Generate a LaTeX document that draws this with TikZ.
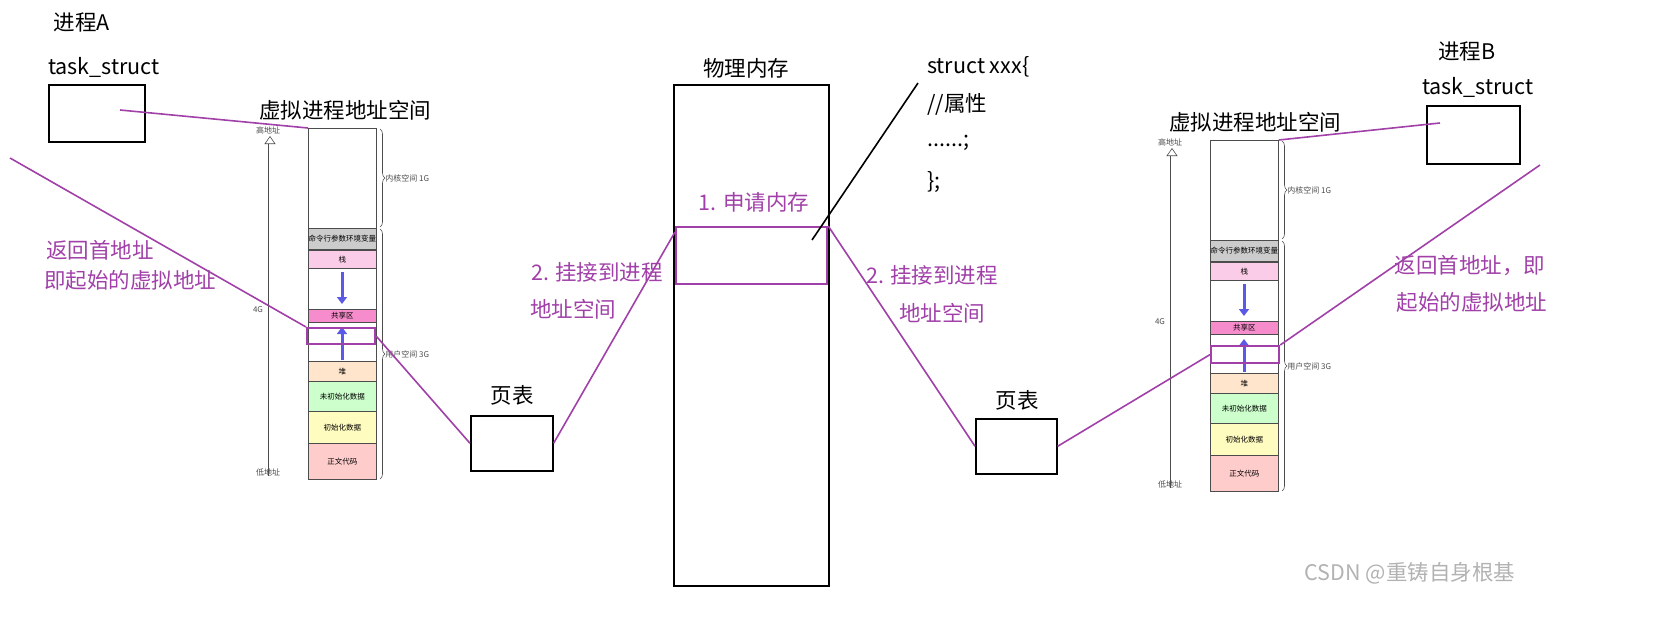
\documentclass[tikz,border=0pt]{standalone}
\usepackage{fontspec}
\setmainfont{Noto Sans CJK SC}
\usetikzlibrary{decorations.pathreplacing,arrows.meta}
\definecolor{pur}{HTML}{A040A8}
\definecolor{blu}{HTML}{5A5AE6}
\tikzset{
 seg/.style={draw=black!70,line width=0.8pt,minimum width=68pt,anchor=north west,inner sep=0pt,font=\fontsize{7.5}{7.5}\selectfont},
 box/.style={draw,line width=1.6pt,anchor=north west,inner sep=0pt},
 pl/.style={pur,line width=1.6pt},
 pbox/.style={draw=pur,line width=2.2pt,anchor=north west,inner sep=0pt},
 tx/.style={font=\fontsize{21.5}{24}\selectfont,inner sep=0pt},
 ptx/.style={tx,text=pur},
 small/.style={font=\fontsize{8}{8}\selectfont,inner sep=0pt,text=black!70},
 barr/.style={blu,line width=3pt,-{Triangle[length=7pt,width=10pt]}},
}
\newcommand\vaspace[4]{% prefix, x, ytop, ybottom
 \begin{scope}[shift={(#2,#3)}]
 \node[seg,minimum height=100pt] (#1k) at (0,0) {};
 \node[seg,minimum height=21pt,fill=black!20] (#1c) at (0,100) {命令行参数环境变量};
 \node[seg,minimum height=18pt,fill=magenta!20] (#1s) at (0,122) {栈};
 \node[seg,minimum height=41pt] (#1g) at (0,140) {};
 \node[seg,minimum height=13pt,fill=magenta!45] (#1sh) at (0,181) {共享区};
 \node[seg,minimum height=39pt] (#1g2) at (0,194) {};
 \node[seg,minimum height=20pt,fill=orange!20] (#1h) at (0,233) {堆};
 \node[seg,minimum height=30pt,fill=green!20] (#1u) at (0,253) {未初始化数据};
 \node[seg,minimum height=32pt,fill=yellow!25] (#1i) at (0,283) {初始化数据};
 \node[seg,minimum height=36pt,fill=red!20] (#1t) at (0,315) {正文代码};
 \draw[barr] (34,144) -- (34,176);
 \draw[barr] (34,232) -- (34,199);
 \draw[black!70,double=white,double distance=3pt,line width=0.6pt,-{Triangle[open,length=8pt,width=11pt]}] (-38,348) -- (-38,8);
 \node[small] at (-40,2) {高地址};
 \node[small] at (-50,182) {4G};
 \node[small] at (-40,344) {低地址};
 \draw[black!70,line width=0.6pt,decorate,decoration={brace,amplitude=5pt}] (72,1) -- (72,99) node[midway,right=5pt,small] {内核空间 1G};
 \draw[black!70,line width=0.6pt,decorate,decoration={brace,amplitude=5pt}] (72,101) -- (72,351) node[midway,right=5pt,small] {用户空间 3G};
 \end{scope}}
\begin{document}
\begin{tikzpicture}[x=1pt,y=-1pt]
\useasboundingbox (0,0) rectangle (1663,637);
\vaspace{L}{308}{128}{480}
\vaspace{R}{1210}{140}{488}
\node[pbox,minimum width=68pt,minimum height=16pt] (Lp) at (306,327) {};
\node[pbox,minimum width=68pt,minimum height=17pt] (Rp) at (1210,345) {};
% boxes
\node[box,minimum width=96pt,minimum height=57pt] (ta) at (48,84) {};
\node[box,minimum width=93pt,minimum height=58pt] (tb) at (1426,105) {};
\node[box,minimum width=155pt,minimum height=501pt] (pm) at (673,84) {};
\node[pbox,minimum width=151pt,minimum height=57pt] (pa) at (675,226) {};
\node[box,minimum width=82pt,minimum height=55pt] (p1) at (470,415) {};
\node[box,minimum width=81pt,minimum height=55pt] (p2) at (975,418) {};
% texts
\node[tx] at (82,22) {进程A};
\node[tx] at (104,67) {task\_struct};
\node[tx] at (345,110) {虚拟进程地址空间};
\node[tx] at (746,68) {物理内存};
\node[tx,anchor=west] at (927,67) {struct xxx\{};
\node[tx,anchor=west] at (927,104) {//属性};
\node[tx,anchor=west] at (927,143) {......;};
\node[tx,anchor=west] at (927,182) {\};};
\node[ptx] at (754,202) {1. 申请内存};
\node[ptx] at (597,272) {2. 挂接到进程};
\node[ptx] at (573,309) {地址空间};
\node[ptx] at (932,275) {2. 挂接到进程};
\node[ptx] at (942,313) {地址空间};
\node[tx] at (512,395) {页表};
\node[tx] at (1017,400) {页表};
\node[ptx] at (100,250) {返回首地址};
\node[ptx] at (130,280) {即起始的虚拟地址};
\node[ptx] at (1470,266) {返回首地址，即};
\node[ptx] at (1472,302) {起始的虚拟地址};
\node[tx] at (1467,51) {进程B};
\node[tx] at (1478,87) {task\_struct};
\node[tx] at (1255,122) {虚拟进程地址空间};
\node[tx,text=black!30] at (1410,573) {CSDN @重铸自身根基};
% lines
\coordinate (a1) at (120,110);
\coordinate (a2) at (10,158);
\coordinate (b1) at (1440,123);
\coordinate (b2) at (1540,165);
\coordinate (s1) at (918,83);
\coordinate (s2) at (812,240);
\draw[pl] (a1) -- (Lk.north west);
\draw[pl] (a2) -- (Lp.north west);
\draw[pl] (Lp.east) -- (p1.west);
\draw[pl] (p1.east) -- ([yshift=-6pt]pa.north west);
\draw[pl] (pa.north east) -- (p2.west);
\draw[pl] (p2.east) -- (Rp.west);
\draw[pl] (Rp.north east) -- (b2);
\draw[pl] (Rk.north east) -- (b1);
\draw[line width=1.6pt] (s1) -- (s2);
\end{tikzpicture}
\end{document}
